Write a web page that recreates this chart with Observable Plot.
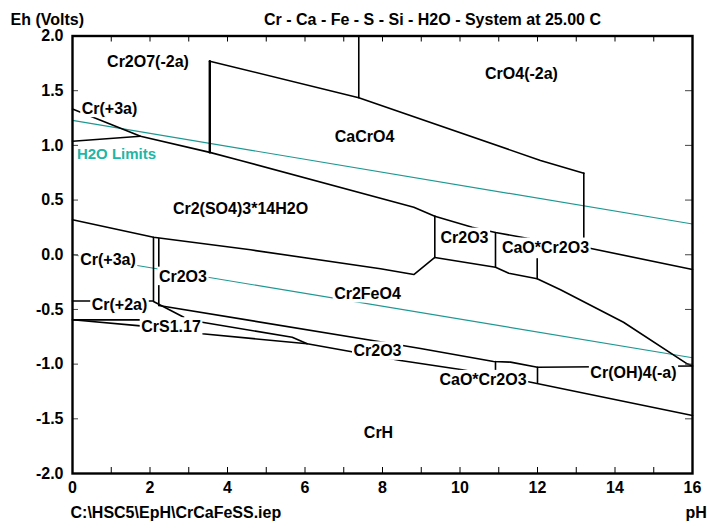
<!DOCTYPE html>
<html>
<head>
<meta charset="utf-8">
<script src="https://cdn.jsdelivr.net/npm/d3@7"></script>
<script src="https://cdn.jsdelivr.net/npm/@observablehq/plot@0.6"></script>
<style>
  html, body { margin: 0; padding: 0; background: white; }
</style>
</head>
<body>
<div id="chart"></div>
<script>
// ---- Data (pH, Eh in volts) ----
const title = "Cr - Ca - Fe - S - Si - H2O - System at 25.00 C";
const yAxisTitle = "Eh (Volts)";
const fileName = "C:\\HSC5\\EpH\\CrCaFeSS.iep";
const xAxisTitle = "pH";

const xTickLabels = [0, 2, 4, 6, 8, 10, 12, 14, 16];
const xTickMarks = [0, 1, 2, 3, 4, 5, 6, 7, 8, 9, 10, 11, 12, 13, 14, 15, 16];
const yTickLabels = [-2.0, -1.5, -1.0, -0.5, 0.0, 0.5, 1.0, 1.5, 2.0];

// water stability limits
const h2oUpper = [[0, 1.228], [16, 0.281]];
const h2oLower = [[0, 0.0], [16, -0.942]];

// boundaries
const cr2o7Top     = [[3.543, 1.770], [7.388, 1.435], [12.077, 0.862], [13.195, 0.746]];
const vertCr2o7    = [[3.543, 1.770], [3.543, 0.936]];
const vertCrO4     = [[7.388, 2.0], [7.388, 1.435]];
const vertCaO      = [[13.195, 0.746], [13.195, 0.071]];
const cr3aTop      = [[0, 1.333], [1.755, 1.084], [3.543, 0.936], [4.335, 0.862], [8.808, 0.435], [9.350, 0.352]];
const cr3aBottom   = [[0, 1.038], [1.755, 1.084]];
const cr2o3Top     = [[9.350, 0.352], [10.315, 0.252], [10.916, 0.203], [11.734, 0.151], [13.195, 0.071], [16, -0.135]];
const vertA        = [[9.350, 0.352], [9.350, -0.025]];
const vertB        = [[10.916, 0.203], [10.916, -0.114]];
const vertC        = [[11.992, -0.037], [11.992, -0.220]];
const feo4Top      = [[9.350, -0.025], [10.916, -0.114], [11.259, -0.169], [11.992, -0.220], [12.594, -0.320], [14.219, -0.617], [15.863, -0.997], [16, -1.017]];
const sulfateLow   = [[0, 0.320], [2.090, 0.160], [4.594, 0.045], [7.948, -0.128], [8.808, -0.181], [9.350, -0.025]];
const vertD        = [[2.090, 0.160], [2.090, -0.418]];
const vertE        = [[2.227, 0.149], [2.227, -0.464]];
const cr2aTop      = [[0, -0.423], [2.090, -0.423]];
const cr2aSlope    = [[2.090, -0.427], [2.872, -0.571]];
const feo4Bottom   = [[2.227, -0.464], [7.742, -0.784], [8.981, -0.857], [10.865, -0.976], [11.303, -0.982], [12.0, -1.028], [16, -1.017]];
const vertF        = [[10.916, -0.976], [10.916, -1.104]];
const vertG        = [[12.0, -1.028], [12.0, -1.168]];
const crsTop       = [[0, -0.595], [1.755, -0.595], [3.347, -0.617], [5.670, -0.754], [6.057, -0.814]];
const crhTop       = [[0, -0.595], [1.755, -0.650], [3.347, -0.723], [6.057, -0.814], [8.465, -0.967], [10.057, -1.052], [11.734, -1.159], [16, -1.470]];

// region labels
const labelText = ["Cr2O7(-2a)", "CrO4(-2a)", "CaCrO4", "Cr(+3a)", "Cr2(SO4)3*14H2O", "Cr2O3", "CaO*Cr2O3",
  "Cr(+3a)", "Cr2O3", "Cr2FeO4", "Cr(+2a)", "CrS1.17", "Cr2O3", "CaO*Cr2O3", "Cr(OH)4(-a)", "CrH"];
const labelPH = [1.948, 11.587, 7.535, 0.955, 4.335, 10.116, 12.206, 0.916, 2.850, 7.613, 1.213, 2.542, 7.871, 10.594, 14.477, 7.897];
const labelEh = [1.764, 1.657, 1.081, 1.337, 0.422, 0.158, 0.067, -0.046, -0.199, -0.357, -0.455, -0.662, -0.882, -1.143, -1.083, -1.625];
const waterLabel = {text: "H2O Limits", pH: 1.135, Eh: 0.923};

// ---- Build tables ----
const toRows = (id, pts) => pts.map(([pH, Eh]) => ({id, pH, Eh}));
const water = [...toRows("up", h2oUpper), ...toRows("low", h2oLower)];
const thinLines = {cr2o7Top, vertCrO4, vertCaO, cr3aTop, cr3aBottom, cr2o3Top, vertA, vertB, vertC, feo4Top,
  sulfateLow, vertD, vertE, cr2aTop, cr2aSlope, feo4Bottom, vertF, vertG, crsTop, crhTop};
const boundaries = Object.entries(thinLines).flatMap(([id, pts]) => toRows(id, pts));
const thickLines = toRows("vertCr2o7", vertCr2o7);
const labels = labelText.map((t, i) => ({text: t, pH: labelPH[i], Eh: labelEh[i]}));

const W = 707, H = 532;
const mL = 72, mR = 15, mT = 35.5, mB = 59;
const innerW = W - mL - mR, innerH = H - mT - mB;
const font = "'Liberation Sans', Arial, Helvetica, sans-serif";

const chart = Plot.plot({
  width: W, height: H,
  marginLeft: mL, marginRight: mR, marginTop: mT, marginBottom: mB,
  x: {domain: [0, 16], label: null},
  y: {domain: [-2, 2], label: null},
  style: {fontFamily: font, fontWeight: "bold", fontSize: "16px", background: "white", color: "black"},
  marks: [
    Plot.line(water, {x: "pH", y: "Eh", z: "id", stroke: "#1e9892", strokeWidth: 1.2}),
    Plot.line(boundaries, {x: "pH", y: "Eh", z: "id", stroke: "black", strokeWidth: 1.6}),
    Plot.line(thickLines, {x: "pH", y: "Eh", z: "id", stroke: "black", strokeWidth: 2.4}),
    Plot.text(labels, {x: "pH", y: "Eh", text: "text", fill: "black", fontSize: 16, fontWeight: "bold"}),
    Plot.text([waterLabel], {x: "pH", y: "Eh", text: "text", fill: "#22b5a6", stroke: "white", strokeWidth: 4,
      fontSize: 15, fontWeight: "bold"}),
    // inward ticks
    Plot.tickX(xTickMarks, {x: d => d, insetTop: innerH - 6, stroke: "black", strokeWidth: 1}),
    Plot.tickX(xTickMarks, {x: d => d, insetBottom: innerH - 6, stroke: "black", strokeWidth: 1}),
    Plot.tickY(yTickLabels, {y: d => d, insetRight: innerW - 6, stroke: "#444", strokeWidth: 1}),
    Plot.tickY(yTickLabels, {y: d => d, insetLeft: innerW - 7, stroke: "#444", strokeWidth: 1}),
    Plot.frame({stroke: "black", strokeWidth: 2.4}),
    Plot.axisX(xTickLabels, {tickSize: 0, tickPadding: 8, tickFormat: d => String(d), fontSize: 16, label: null}),
    Plot.axisY(yTickLabels, {tickSize: 0, tickPadding: 9, tickFormat: d => d.toFixed(1), fontSize: 16, label: null}),
    // titles
    Plot.text([title], {text: d => d, frameAnchor: "top", dx: 50, dy: -22, fontSize: 16, fontWeight: "bold"}),
    Plot.text([yAxisTitle], {text: d => d, frameAnchor: "top-left", textAnchor: "start", dx: -62, dy: -22, fontSize: 16, fontWeight: "bold"}),
    Plot.text([fileName], {text: d => d, frameAnchor: "bottom-left", textAnchor: "start", dx: -2, dy: 44, fontSize: 16, fontWeight: "bold"}),
    Plot.text([xAxisTitle], {text: d => d, frameAnchor: "bottom-right", textAnchor: "start", dx: -7, dy: 44, fontSize: 16, fontWeight: "bold"})
  ]
});
document.getElementById("chart").appendChild(chart);

// white background boxes behind region labels (like the original diagram's label boxes)
const svgns = "http://www.w3.org/2000/svg";
const textGroups = Array.from(chart.querySelectorAll("g"))
  .filter(g => g.querySelectorAll(":scope > text").length === labels.length);
const labelGroup = textGroups[0];
if (labelGroup) {
  const texts = Array.from(labelGroup.querySelectorAll(":scope > text"));
  texts.forEach(t => {
    const b = t.getBBox();
    const r = document.createElementNS(svgns, "rect");
    r.setAttribute("x", b.x - 1.5);
    r.setAttribute("y", b.y - 1);
    r.setAttribute("width", b.width + 3);
    r.setAttribute("height", b.height + 1.5);
    r.setAttribute("fill", "white");
    const tr = t.getAttribute("transform");
    if (tr) r.setAttribute("transform", tr);
    labelGroup.insertBefore(r, labelGroup.firstChild);
  });
}
</script>
</body>
</html>
